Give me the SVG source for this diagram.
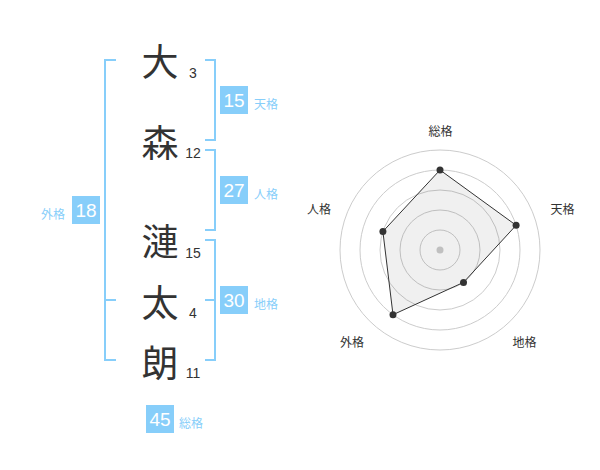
<svg xmlns="http://www.w3.org/2000/svg" width="600" height="470" viewBox="0 0 600 470">
<style>
.kanji{font-family:"Noto Sans CJK JP","Noto Sans CJK SC",sans-serif;font-size:37px;fill:#333;text-anchor:middle;dominant-baseline:central}
.num{font-family:"Liberation Sans",Arial,sans-serif;font-size:14px;fill:#333;text-anchor:middle}
.br{fill:none;stroke:#87cefa;stroke-width:2}
.box{fill:#87cefa}
.bnum{font-family:"Liberation Sans",Arial,sans-serif;font-size:19px;fill:#fff;text-anchor:middle;dominant-baseline:central}
.lbl{font-family:"Noto Sans CJK JP","Noto Sans CJK SC",sans-serif;font-size:12px;fill:#87cefa;dominant-baseline:central}
.ring{fill:none;stroke:#cccccc;stroke-width:1}
.axis{font-family:"Noto Sans CJK JP","Noto Sans CJK SC",sans-serif;font-size:12px;fill:#333;text-anchor:middle;dominant-baseline:central}
.pt{fill:#333}
</style>
<rect width="600" height="470" fill="#fff"/>
<g id="connectors">
<path class="br" d="M116,60 H105 V360 H116 M105,300 H116"/>
<path class="br" d="M205,60 H215 V140 H205"/>
<path class="br" d="M205,150 H215 V230 H205"/>
<path class="br" d="M205,240 H215 V360 H205 M205,300 H215"/>
</g>
<g id="char-dai"><text class="kanji" x="160" y="60">大</text><text class="num" x="193" y="78">3</text></g>
<g id="char-mori"><text class="kanji" x="160" y="141">森</text><text class="num" x="193" y="158">12</text></g>
<g id="char-ren"><text class="kanji" x="160" y="240">漣</text><text class="num" x="193" y="258">15</text></g>
<g id="char-ta"><text class="kanji" x="160" y="301">太</text><text class="num" x="193" y="318">4</text></g>
<g id="char-rou"><text class="kanji" x="160" y="361">朗</text><text class="num" x="193" y="378">11</text></g>
<g id="tenkaku"><rect class="box" x="220" y="86" width="28" height="28"/><text class="bnum" x="234" y="100">15</text><text class="lbl" x="254" y="103">天格</text></g>
<g id="jinkaku"><rect class="box" x="220" y="176" width="28" height="28"/><text class="bnum" x="234" y="190">27</text><text class="lbl" x="254" y="193">人格</text></g>
<g id="chikaku"><rect class="box" x="220" y="286" width="28" height="28"/><text class="bnum" x="234" y="300">30</text><text class="lbl" x="254" y="303">地格</text></g>
<g id="gaikaku"><rect class="box" x="72" y="196" width="28" height="28"/><text class="bnum" x="86" y="210">18</text><text class="lbl" x="41" y="213">外格</text></g>
<g id="soukaku"><rect class="box" x="146" y="405" width="28" height="28"/><text class="bnum" x="160" y="419">45</text><text class="lbl" x="179" y="422">総格</text></g>
<g id="radar">
<circle class="ring" cx="440" cy="250" r="20"/>
<circle class="ring" cx="440" cy="250" r="40"/>
<circle class="ring" cx="440" cy="250" r="60"/>
<circle class="ring" cx="440" cy="250" r="80"/>
<circle class="ring" cx="440" cy="250" r="100"/>
<circle cx="440" cy="250" r="3.5" fill="#cccccc"/>
<polygon points="440,170 516.1,225.3 463.5,282.4 393,314.7 382.9,231.5" fill="#000" fill-opacity="0.06" stroke="#333" stroke-width="1"/>
<circle class="pt" cx="440" cy="170" r="3.5"/>
<circle class="pt" cx="516.1" cy="225.3" r="3.5"/>
<circle class="pt" cx="463.5" cy="282.4" r="3.5"/>
<circle class="pt" cx="393" cy="314.7" r="3.5"/>
<circle class="pt" cx="382.9" cy="231.5" r="3.5"/>
<text class="axis" x="440.5" y="130.5">総格</text>
<text class="axis" x="562.5" y="208.5">天格</text>
<text class="axis" x="524.5" y="341.5">地格</text>
<text class="axis" x="352" y="341.5">外格</text>
<text class="axis" x="319" y="208.5">人格</text>
</g>
</svg>
